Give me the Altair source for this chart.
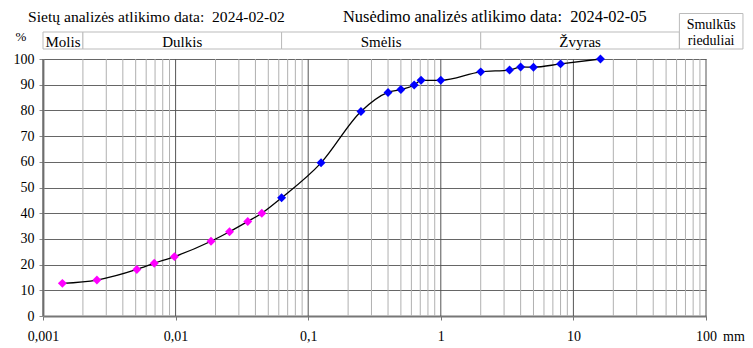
import altair as alt
import pandas as pd

# ---- data ----
hydro_d = [0.0014, 0.00255, 0.0051, 0.0069, 0.0098, 0.0185, 0.0255, 0.035, 0.0447]
hydro_p = [12.7, 14.0, 18.1, 20.5, 23.1, 29.1, 32.8, 36.8, 40.0]
sieve_d = [0.063, 0.125, 0.25, 0.4, 0.5, 0.63, 0.71, 1.0, 2.0, 3.3, 4.0, 5.0, 8.0, 16.0]
sieve_p = [46.0, 59.6, 79.6, 87.0, 88.1, 89.9, 91.7, 91.7, 95.0, 95.7, 96.9, 96.8, 98.1, 100.0]

fractions = ["Molis", "Dulkis", "Smėlis", "Žvyras"]
frac_lo = [0.001, 0.002, 0.063, 2.0]
frac_hi = [0.002, 0.063, 2.0, 63.0]
boulder_lo = [63.0]
boulder_hi = [190.0]

major_x = [0.001, 0.01, 0.1, 1, 10, 100]
minor_mult = [2, 3, 4, 5, 6, 7, 8, 9]
minor_x = [m * d for d in [0.001, 0.01, 0.1, 1, 10] for m in minor_mult]
y_ticks = [0, 10, 20, 30, 40, 50, 60, 70, 80, 90, 100]

title_left = "Sietų analizės atlikimo data:\u00a0 2024-02-02"
title_right = "Nusėdimo analizės atlikimo data:\u00a0 2024-02-05"

FONT = "Liberation Serif"

pts = pd.DataFrame({
    "d": hydro_d + sieve_d,
    "p": hydro_p + sieve_p,
    "kind": ["hydro"] * len(hydro_d) + ["sieve"] * len(sieve_d),
})
pts = pts.sort_values("d").reset_index(drop=True)
pts["order"] = range(len(pts))

xscale = alt.Scale(type="log", domain=[0.001, 100], nice=False)
yscale = alt.Scale(domain=[0, 100], nice=False)

XAXIS = alt.Axis(values=major_x, grid=False,
                 labelExpr="replace(toString(datum.value), '.', ',')",
                 labelFont=FONT, labelFontSize=14, labelColor="black",
                 tickSize=4, tickColor="#777777", domainColor="#777777",
                 domainWidth=2, labelPadding=9, labelFlush=False, labelOverlap=False)
YAXIS = alt.Axis(values=y_ticks, grid=True, gridColor="#666666", gridWidth=1,
                 labelFont=FONT, labelFontSize=14, labelColor="black",
                 tickSize=4, tickColor="#888888", domainColor="#888888",
                 domainWidth=2, labelPadding=5, labelOverlap=False)


def X(field):
    return alt.X(field, scale=xscale, axis=XAXIS, title=None)


def Y(field):
    return alt.Y(field, scale=yscale, axis=YAXIS, title=None)


minor = alt.Chart(pd.DataFrame({"x": minor_x})).mark_rule(
    color="#b0b0b0", strokeWidth=1
).encode(x=X("x:Q"))

major = alt.Chart(pd.DataFrame({"x": major_x})).mark_rule(
    color="#555555", strokeWidth=1
).encode(x=X("x:Q"))

line = alt.Chart(pts).mark_line(
    color="black", strokeWidth=1.3, interpolate="monotone"
).encode(x=X("d:Q"), y=Y("p:Q"), order="order:Q")

points = alt.Chart(pts).mark_point(shape="diamond", filled=True, size=80, opacity=1).encode(
    x=X("d:Q"),
    y=Y("p:Q"),
    color=alt.Color("kind:N", scale=alt.Scale(domain=["hydro", "sieve"],
                                              range=["#ff00ff", "#0000ff"]), legend=None),
)

frac_df = pd.DataFrame({"name": fractions, "lo": frac_lo, "hi": frac_hi})
frac_df["mid"] = (frac_df["lo"] * frac_df["hi"]) ** 0.5

frac_box = alt.Chart(frac_df).mark_rect(
    fill="white", stroke="#bbbbbb", strokeWidth=1
).encode(x=X("lo:Q"), x2="hi:Q", y=alt.value(-27), y2=alt.value(-10))

frac_text = alt.Chart(frac_df).mark_text(
    font=FONT, fontSize=15, color="black", baseline="middle", align="center"
).encode(x=X("mid:Q"), y=alt.value(-17.5), text="name:N")

bould_df = pd.DataFrame({"lo": boulder_lo, "hi": boulder_hi})
bould_df["mid"] = (bould_df["lo"] * bould_df["hi"]) ** 0.5
bould_box = alt.Chart(bould_df).mark_rect(
    fill="white", stroke="#bbbbbb", strokeWidth=1
).encode(x=X("lo:Q"), x2="hi:Q", y=alt.value(-45.5), y2=alt.value(-10))
bould_t1 = alt.Chart(bould_df).mark_text(
    font=FONT, fontSize=14, color="black", baseline="alphabetic", align="center"
).encode(x=X("mid:Q"), y=alt.value(-30.5), text=alt.value("Smulkūs"))
bould_t2 = alt.Chart(bould_df).mark_text(
    font=FONT, fontSize=14, color="black", baseline="alphabetic", align="center"
).encode(x=X("mid:Q"), y=alt.value(-14), text=alt.value("rieduliai"))

one = pd.DataFrame({"k": [0]})
t_left = alt.Chart(one).mark_text(
    font=FONT, fontSize=15.6, color="black", align="left", baseline="alphabetic"
).encode(x=alt.value(-15), y=alt.value(-37), text=alt.value(title_left))
t_right = alt.Chart(one).mark_text(
    font=FONT, fontSize=16.4, color="black", align="left", baseline="alphabetic"
).encode(x=alt.value(300), y=alt.value(-37), text=alt.value(title_right))
pct = alt.Chart(one).mark_text(
    font=FONT, fontSize=13, color="black", align="center", baseline="middle"
).encode(x=alt.value(-22), y=alt.value(-22), text=alt.value("%"))
mm = alt.Chart(one).mark_text(
    font=FONT, fontSize=14, color="black", align="center", baseline="middle"
).encode(x=alt.value(691), y=alt.value(278), text=alt.value("mm"))

chart = alt.layer(
    minor, major, line, points,
    frac_box, frac_text, bould_box, bould_t1, bould_t2,
    t_left, t_right, pct, mm,
).properties(
    width=663, height=257,
    padding={"left": 35, "top": 51, "right": 39, "bottom": 32},
    autosize=alt.AutoSizeParams(type="none"),
    background="white",
).configure_view(stroke=None)

chart.save("out.html", embed_options={"renderer": "svg", "actions": False})
